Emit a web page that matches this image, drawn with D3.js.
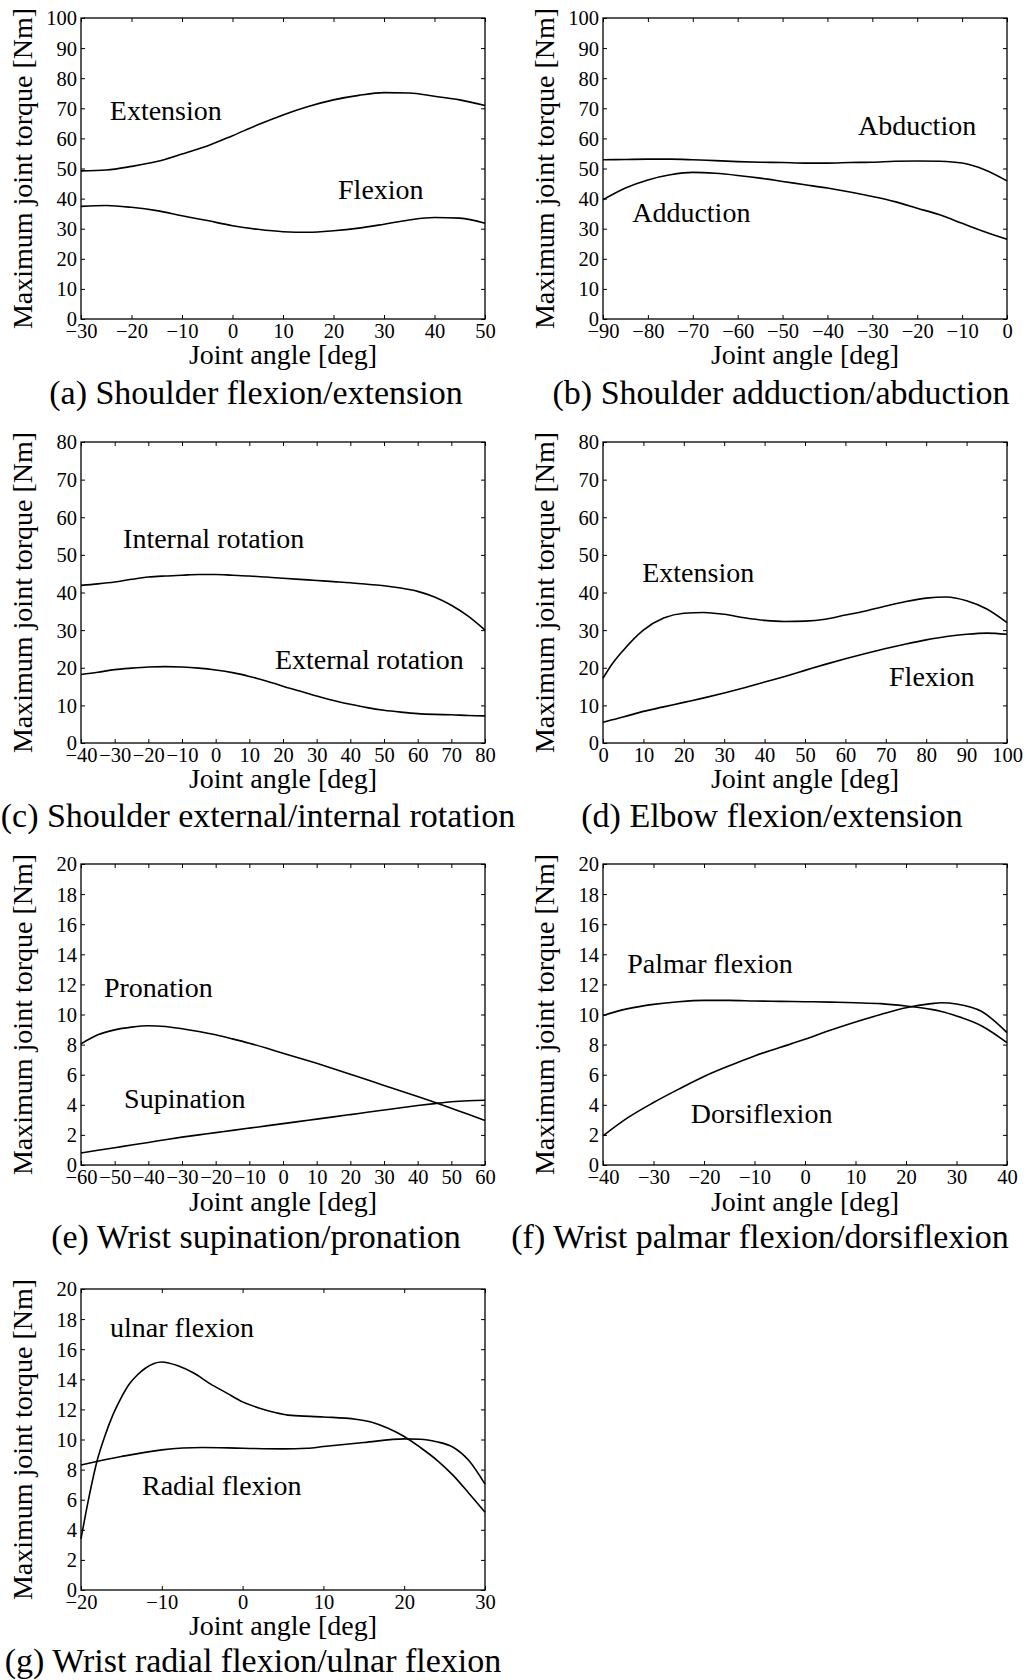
<!DOCTYPE html>
<html><head><meta charset="utf-8">
<script src="https://cdn.jsdelivr.net/npm/d3@7"></script>
<style>body{margin:0;background:#fff}svg{display:block}</style>
</head><body><svg id="fig" width="1026" height="1680"></svg>
<script>
// ---------- (a) Shoulder flexion/extension ----------
const aAngles = [-30,-25,-20,-15,-10,-5,0,5,10,15,20,25,30,35,40,45,50];
const aExtension = [49.2,49.5,50.7,52.3,54.8,57.5,60.9,64.5,67.8,70.6,72.8,74.3,75.2,75.1,74.0,72.8,70.9];
const aFlexion = [37.4,37.7,37.1,36.0,34.3,32.7,31.0,29.8,29.0,28.8,29.3,30.2,31.5,32.9,33.7,33.5,31.8];
// ---------- (b) Shoulder adduction/abduction ----------
const bAngles = [-90,-85,-80,-75,-70,-65,-60,-55,-50,-45,-40,-35,-30,-25,-20,-15,-10,-5,0];
const bAbduction = [52.9,53.0,53.1,53.1,52.9,52.6,52.3,52.1,52.0,51.8,51.8,52.0,52.1,52.4,52.5,52.4,51.8,49.6,45.9];
const bAdduction = [39.6,43.5,46.2,47.9,48.7,48.4,47.7,46.8,45.7,44.6,43.5,42.2,40.7,39.0,36.8,34.6,31.8,29.0,26.5];
// ---------- (c) Shoulder external/internal rotation ----------
const cAngles = [-40,-35,-30,-25,-20,-15,-10,-5,0,5,10,15,20,25,30,35,40,45,50,55,60,65,70,75,80];
const cInternal = [41.9,42.3,42.8,43.5,44.1,44.4,44.6,44.8,44.8,44.6,44.4,44.1,43.8,43.5,43.2,42.9,42.6,42.2,41.8,41.2,40.3,38.8,36.6,33.7,30.0];
const cExternal = [18.2,18.8,19.5,19.9,20.2,20.3,20.2,19.9,19.4,18.7,17.7,16.5,15.1,13.8,12.5,11.3,10.3,9.4,8.7,8.2,7.8,7.6,7.5,7.3,7.2];
// ---------- (d) Elbow flexion/extension ----------
const dAngles = [0,2,5,10,15,20,25,30,35,40,45,50,55,60,65,70,75,80,85,90,95,100];
const dExtension = [17.2,20.6,24.6,30.0,33.2,34.5,34.7,34.2,33.3,32.6,32.3,32.4,32.9,34.0,35.1,36.4,37.6,38.5,38.8,37.8,35.6,32.0];
const dFlexion = [5.5,6.1,6.9,8.4,9.6,10.8,12.0,13.3,14.7,16.2,17.7,19.3,20.9,22.4,23.8,25.1,26.3,27.4,28.3,28.9,29.2,28.9];
// ---------- (e) Wrist supination/pronation ----------
const eAngles = [-60,-55,-50,-45,-40,-35,-30,-25,-20,-15,-10,-5,0,5,10,15,20,25,30,35,40,45,50,55,60];
const ePronation = [8.05,8.65,8.98,9.16,9.25,9.2,9.05,8.87,8.65,8.38,8.09,7.77,7.43,7.1,6.76,6.4,6.03,5.66,5.28,4.92,4.55,4.17,3.77,3.37,2.95];
const eSupination = [0.8,0.98,1.15,1.33,1.5,1.68,1.85,2.0,2.15,2.3,2.45,2.6,2.75,2.9,3.05,3.2,3.35,3.5,3.65,3.8,3.95,4.08,4.2,4.27,4.3];
// ---------- (f) Wrist palmar flexion/dorsiflexion ----------
const fAngles = [-40,-35,-30,-25,-20,-15,-10,-5,0,5,10,15,20,25,27,30,35,40];
const fPalmar = [9.94,10.39,10.67,10.85,10.94,10.94,10.9,10.87,10.85,10.82,10.78,10.72,10.56,10.34,10.2,9.9,9.24,8.13];
const fDorsi = [1.94,3.16,4.15,5.04,5.88,6.59,7.25,7.8,8.35,8.95,9.5,10.0,10.45,10.72,10.78,10.7,10.2,8.8];
// ---------- (g) Wrist radial flexion/ulnar flexion ----------
const gUlnarAngles = [-20,-19,-18,-17,-16,-15,-14,-13,-12,-10,-8,-6,-4,-2,0,2,4,6,10,14,16,18,20,22,24,26,28,30];
const gUlnar = [3.4,6.2,8.6,10.3,11.7,12.8,13.7,14.3,14.75,15.15,14.9,14.4,13.7,13.1,12.5,12.1,11.8,11.6,11.5,11.35,11.15,10.75,10.2,9.47,8.65,7.65,6.43,5.17];
const gRadialAngles = [-20,-15,-10,-5,0,5,8,10,15,20,22,24,26,28,30];
const gRadial = [8.31,8.87,9.31,9.47,9.42,9.38,9.42,9.53,9.8,10.04,10.02,9.85,9.5,8.6,7.03];

// ---------- tick values ----------
const ticksA = [-30,-20,-10,0,10,20,30,40,50];
const ticksB = [-90,-80,-70,-60,-50,-40,-30,-20,-10,0];
const ticksC = [-40,-30,-20,-10,0,10,20,30,40,50,60,70,80];
const ticksD = [0,10,20,30,40,50,60,70,80,90,100];
const ticksE = [-60,-50,-40,-30,-20,-10,0,10,20,30,40,50,60];
const ticksF = [-40,-30,-20,-10,0,10,20,30,40];
const ticksG = [-20,-10,0,10,20,30];
const yTicks100 = [0,10,20,30,40,50,60,70,80,90,100];
const yTicks80 = [0,10,20,30,40,50,60,70,80];
const yTicks20 = [0,2,4,6,8,10,12,14,16,18,20];

// ---------- text ----------
const xTitle = "Joint angle [deg]";
const yTitle = "Maximum joint torque [Nm]";
const captions = [
  "(a) Shoulder flexion/extension",
  "(b) Shoulder adduction/abduction",
  "(c) Shoulder external/internal rotation",
  "(d) Elbow flexion/extension",
  "(e) Wrist supination/pronation",
  "(f) Wrist palmar flexion/dorsiflexion",
  "(g) Wrist radial flexion/ulnar flexion"
];

const zip = (xs, ys) => xs.map((v, i) => [v, ys[i]]);

// panel definitions (data + layout)
const L = 81, R = 603, W = 404, H = 301;
const panels = [
  {xd:[-30,50], yd:[0,100], xt:ticksA, yt:yTicks100, left:L, top:18, xl:45, cap:85, capX:256,
   series:[zip(aAngles,aExtension), zip(aAngles,aFlexion)],
   labels:[["Extension",-24.3,66.1],["Flexion",20.9,39.9]]},
  {xd:[-90,0], yd:[0,100], xt:ticksB, yt:yTicks100, left:R, top:18, xl:45, cap:85, capX:781,
   series:[zip(bAngles,bAbduction), zip(bAngles,bAdduction)],
   labels:[["Abduction",-33.2,61.1],["Adduction",-83.5,32.2]]},
  {xd:[-40,80], yd:[0,80], xt:ticksC, yt:yTicks80, left:L, top:442, xl:45, cap:84, capX:258,
   series:[zip(cAngles,cInternal), zip(cAngles,cExternal)],
   labels:[["Internal rotation",-27.5,51.8],["External rotation",17.6,19.7]]},
  {xd:[0,100], yd:[0,80], xt:ticksD, yt:yTicks80, left:R, top:442, xl:45, cap:84, capX:772,
   series:[zip(dAngles,dExtension), zip(dAngles,dFlexion)],
   labels:[["Extension",9.7,42.8],["Flexion",70.8,15.1]]},
  {xd:[-60,60], yd:[0,20], xt:ticksE, yt:yTicks20, left:L, top:864, xl:46, cap:83, capX:256,
   series:[zip(eAngles,ePronation), zip(eAngles,eSupination)],
   labels:[["Pronation",-53.2,11.16],["Supination",-47.2,3.79]]},
  {xd:[-40,40], yd:[0,20], xt:ticksF, yt:yTicks20, left:R, top:864, xl:46, cap:83, capX:760,
   series:[zip(fAngles,fPalmar), zip(fAngles,fDorsi)],
   labels:[["Palmar flexion",-35.2,12.76],["Dorsiflexion",-22.6,2.79]]},
  {xd:[-20,30], yd:[0,20], xt:ticksG, yt:yTicks20, left:L, top:1289, xl:45, cap:82, capX:253,
   series:[zip(gUlnarAngles,gUlnar), zip(gRadialAngles,gRadial)],
   labels:[["ulnar flexion",-16.4,16.8],["Radial flexion",-12.45,6.31]]}
];

const svg = d3.select("#fig");
svg.append("rect").attr("width",1026).attr("height",1680).attr("fill","#fff");
const tickFont = "'Liberation Serif', 'Times New Roman', serif";
const labFont = "'Liberation Serif', 'Times New Roman', serif";
const fmt = d3.format("d");

panels.forEach((p, i) => {
  const g = svg.append("g");
  const x = d3.scaleLinear().domain(p.xd).range([p.left, p.left + W]);
  const y = d3.scaleLinear().domain(p.yd).range([p.top + H, p.top]);
  const bottom = p.top + H;

  const ax = [
    g.append("g").attr("transform", `translate(0,${bottom})`)
      .call(d3.axisBottom(x).tickValues(p.xt).tickFormat(fmt).tickSizeInner(-4).tickSizeOuter(0).tickPadding(4)),
    g.append("g").attr("transform", `translate(${p.left},0)`)
      .call(d3.axisLeft(y).tickValues(p.yt).tickFormat(fmt).tickSizeInner(-4).tickSizeOuter(0).tickPadding(4)),
    g.append("g").attr("transform", `translate(0,${p.top})`)
      .call(d3.axisTop(x).tickValues(p.xt).tickFormat("").tickSizeInner(-4).tickSizeOuter(0)),
    g.append("g").attr("transform", `translate(${p.left + W},0)`)
      .call(d3.axisRight(y).tickValues(p.yt).tickFormat("").tickSizeInner(-4).tickSizeOuter(0))
  ];
  ax.forEach(a => {
    a.select(".domain").remove();
    a.attr("font-family", tickFont).attr("font-size", 20.5);
    a.selectAll("line").attr("stroke", "#000").attr("stroke-width", 1);
    a.selectAll("text").attr("fill", "#000");
  });
  ax[1].selectAll("text").attr("dy", "0.34em");

  g.append("rect").attr("x", p.left).attr("y", p.top).attr("width", W).attr("height", H)
    .attr("fill", "none").attr("stroke", "#000").attr("stroke-width", 1.3);

  const line = d3.line().x(d => x(d[0])).y(d => y(d[1])).curve(d3.curveMonotoneX);
  p.series.forEach(s => {
    g.append("path").attr("d", line(s)).attr("fill", "none")
      .attr("stroke", "#000").attr("stroke-width", 1.6).attr("stroke-linejoin", "round");
  });

  p.labels.forEach(([t, lx, ly]) => {
    g.append("text").attr("x", x(lx)).attr("y", y(ly)).text(t)
      .attr("font-family", labFont).attr("font-size", 28).attr("fill", "#000");
  });

  g.append("text").attr("x", p.left + W / 2).attr("y", bottom + p.xl)
    .attr("text-anchor", "middle").attr("font-family", labFont).attr("font-size", 28)
    .attr("fill", "#000").text(xTitle);

  g.append("text")
    .attr("transform", `translate(${p.left - 49},${p.top + H / 2}) rotate(-90)`)
    .attr("text-anchor", "middle").attr("font-family", labFont).attr("font-size", 28)
    .attr("fill", "#000").text(yTitle);

  g.append("text").attr("x", p.capX).attr("y", bottom + p.cap)
    .attr("text-anchor", "middle").attr("font-family", labFont).attr("font-size", 34)
    .attr("fill", "#000").text(captions[i]);
});
</script>
</body></html>
